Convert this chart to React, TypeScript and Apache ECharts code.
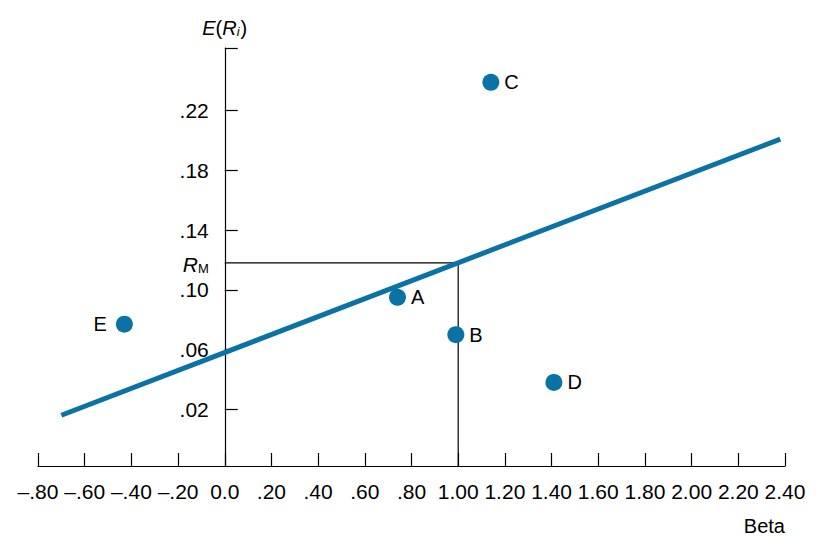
import React, { useEffect, useRef } from 'react';
import * as echarts from 'echarts';

// ---- data ----
const X_MIN = -0.8;
const X_MAX = 2.4;
const X_STEP = 0.2;
const Y_MIN = -0.018;
const Y_MAX = 0.262;
const yTickLabels = [0.02, 0.06, 0.1, 0.14, 0.18, 0.22];
const R_M = 0.118;
const BETA_M = 1.0;
const Y_AXIS_AT_BETA = 0;

const pointNames = ['A', 'B', 'C', 'D', 'E'];
const pointBetas = [0.74, 0.99, 1.14, 1.41, -0.43];
const pointReturns = [0.095, 0.07, 0.239, 0.038, 0.077];
const pointLabelSide = ['right', 'right', 'right', 'right', 'left'];

const smlBetas = [-0.7, 2.38];
const smlReturns = [0.016, 0.201];
const smlName = 'SML';

const FONT = "'Liberation Sans', Arial, Helvetica, sans-serif";
const BLUE = '#0a72a5';

function fmtX(v: number): string {
  if (Math.abs(v) < 1e-9) return '0.0';
  let s = Math.abs(v).toFixed(2);
  if (Math.abs(v) < 1) s = s.slice(1);
  return (v < 0 ? '\u2013' : '') + s;
}

export default function App() {
  const ref = useRef<HTMLDivElement>(null);
  useEffect(() => {
    if (!ref.current) return;
    const chart = echarts.init(ref.current, null, { renderer: 'svg' });
    const isRM = (v: number) => Math.abs(v - R_M) < 1e-6;
    chart.setOption({
      animation: false,
      backgroundColor: '#fff',
      textStyle: { fontFamily: FONT },
      grid: { left: 38, right: 48, top: 48, bottom: 70, containLabel: false, outerBoundsMode: 'none' },
      xAxis: {
        type: 'value',
        min: X_MIN,
        max: X_MAX,
        interval: X_STEP,
        name: 'Beta',
        nameLocation: 'end',
        nameGap: 0,
        nameTextStyle: {
          fontFamily: FONT, fontSize: 20, color: '#000',
          align: 'right', verticalAlign: 'top', padding: [50, 0, 0, 0],
        },
        axisLine: { onZero: false, lineStyle: { color: '#000', width: 1.2 } },
        axisTick: { show: true, inside: true, length: 13, lineStyle: { color: '#000', width: 1.2 } },
        axisLabel: { fontFamily: FONT, fontSize: 21, color: '#000', margin: 15, formatter: (v: number) => fmtX(v) },
        splitLine: { show: false },
      },
      yAxis: {
        type: 'value',
        min: Y_MIN,
        max: Y_MAX,
        offset: 0,
        name: '{i|E}{n|(}{i|R}{sub|i}{n|)}',
        nameLocation: 'end',
        nameGap: 10,
        nameTextStyle: {
          fontFamily: FONT, fontSize: 20, color: '#000', align: 'center',
          rich: {
            i: { fontFamily: FONT, fontSize: 20, fontStyle: 'italic', color: '#000', lineHeight: 24, verticalAlign: 'bottom' },
            n: { fontFamily: FONT, fontSize: 20, color: '#000', lineHeight: 24, verticalAlign: 'bottom' },
            sub: { fontFamily: FONT, fontSize: 13, fontStyle: 'italic', color: '#000', lineHeight: 13, verticalAlign: 'bottom', padding: [0, 1, 0, 0] },
          },
        },
        axisLine: { onZero: false, lineStyle: { color: '#000', width: 1.2 } },
        axisTick: {
          show: true, inside: true, length: 13,
          customValues: [...yTickLabels, Y_MAX],
          lineStyle: { color: '#000', width: 1.2 },
        },
        axisLabel: {
          fontFamily: FONT, fontSize: 21, color: '#000', margin: 16,
          customValues: [...yTickLabels, R_M].sort((a, b) => a - b),
          formatter: (v: number) => (isRM(v) ? '{r|R}{m|M}' : v.toFixed(2).slice(1)),
          rich: {
            r: { fontFamily: FONT, fontSize: 21, fontStyle: 'italic', color: '#000', lineHeight: 24, verticalAlign: 'bottom' },
            m: { fontFamily: FONT, fontSize: 13, color: '#000', lineHeight: 13, verticalAlign: 'bottom' },
          },
        },
        splitLine: { show: false },
      },
      series: [
        {
          type: 'line',
          name: 'market',
          data: [[Y_AXIS_AT_BETA, R_M], [BETA_M, R_M], [BETA_M, Y_MIN]],
          symbol: 'none',
          lineStyle: { color: '#000', width: 1.2 },
          z: 1,
          silent: true,
        },
        {
          type: 'line',
          name: smlName,
          data: smlBetas.map((b, i) => ({
            value: [b, smlReturns[i]],
            label: i === smlBetas.length - 1
              ? { show: true, position: 'right', distance: 7, formatter: smlName, fontFamily: FONT, fontSize: 20, color: '#000' }
              : { show: false },
          })),
          symbol: 'circle',
          symbolSize: 0.1,
          itemStyle: { color: BLUE, opacity: 0 },
          lineStyle: { color: BLUE, width: 5, cap: 'butt' },
          z: 2,
          silent: true,
        },
        {
          type: 'scatter',
          name: 'assets',
          data: pointNames.map((n, i) => ({
            name: n,
            value: [pointBetas[i], pointReturns[i]],
            label: {
              show: true,
              position: pointLabelSide[i],
              distance: pointLabelSide[i] === 'left' ? 9 : 5,
              formatter: n,
              fontFamily: FONT, fontSize: 20, color: '#000',
            },
          })),
          symbol: 'circle',
          symbolSize: 17,
          itemStyle: { color: BLUE, opacity: 1 },
          z: 3,
          silent: true,
        },
      ],
    });
    // Move the y axis (line, ticks, labels, name) to beta = 0 using the x scale.
    const pxAxis = chart.convertToPixel({ xAxisIndex: 0 }, Y_AXIS_AT_BETA) as number;
    const pxLeft = chart.convertToPixel({ xAxisIndex: 0 }, X_MIN) as number;
    chart.setOption({ yAxis: { offset: -(pxAxis - pxLeft) } });
    return () => chart.dispose();
  }, []);
  return (
    <div
      ref={ref}
      style={{ position: 'absolute', left: 0, top: 0, width: 833, height: 536 }}
    />
  );
}
